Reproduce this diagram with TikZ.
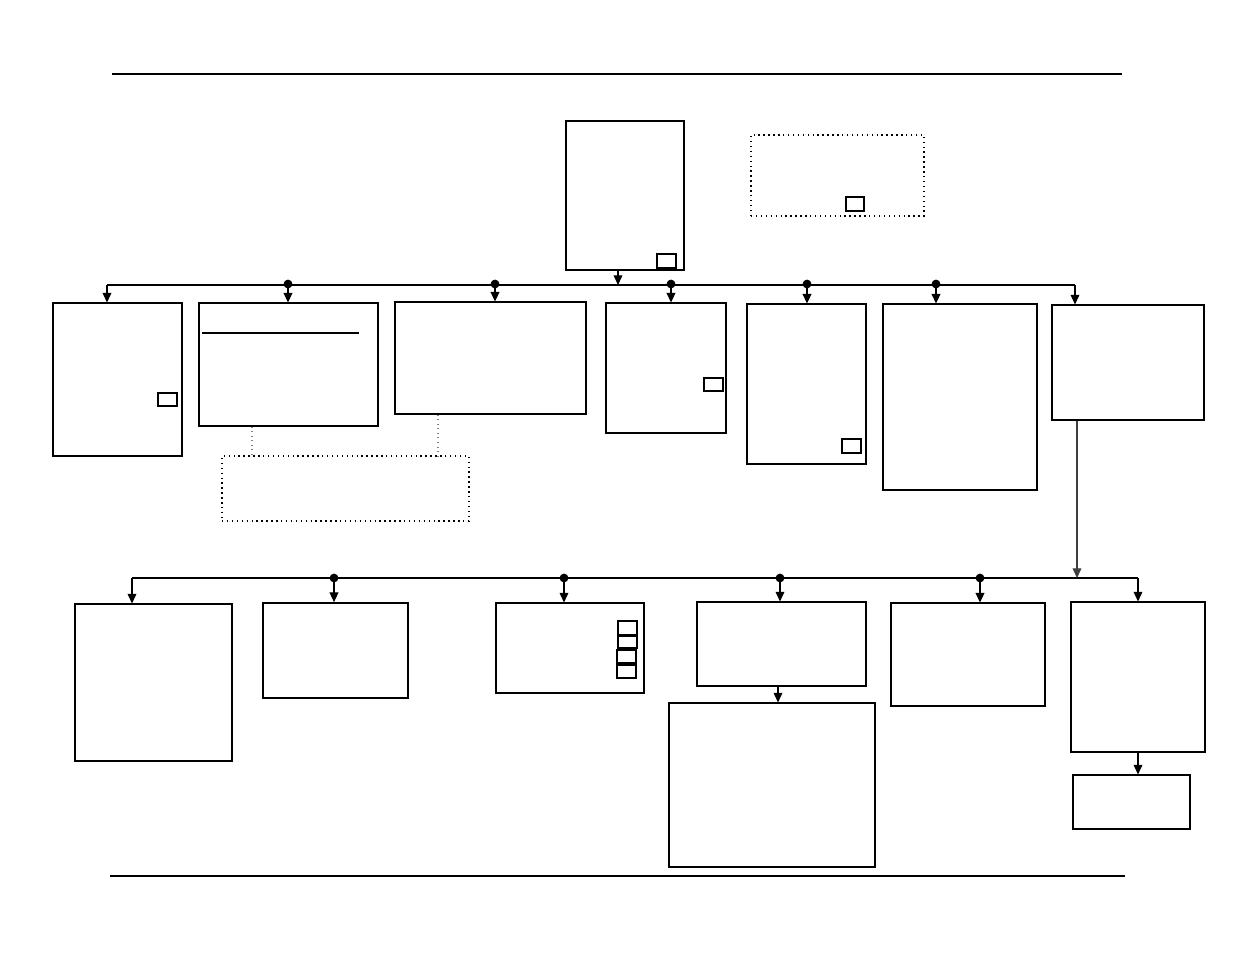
\documentclass[tikz,border=0pt]{standalone}
\usetikzlibrary{arrows.meta,fit}

\tikzset{
  box/.style={draw, line width=0.6pt, inner sep=0pt, fill=white},
  notebox/.style={draw, dotted, line width=0.8pt, inner sep=0pt},
  tagbox/.style={draw, line width=0.6pt, inner sep=0pt},
  joint/.style={circle, fill, inner sep=0pt, minimum size=5pt},
  arr/.style={-{Triangle[length=5.5pt,width=5pt]}, line width=0.6pt},
  darr/.style={arr, line width=1.1pt},
  link/.style={dotted, line width=0.6pt, gray}
}

\begin{document}
\begin{tikzpicture}[x=0.02cm, y=-0.02cm]
  \useasboundingbox (0,0) rectangle (1235,954);

  % page rules
  \draw[line width=0.6pt] (112,74) -- (1122,74);
  \draw[line width=1.4pt] (110,876) -- (1125,876);

  % head and side note
  \node[box, fit={(566,121) (684,270)}] (head) {};
  \node[tagbox, fit={(657,254) (676,268)}] (headtag) {};
  \node[notebox, fit={(751,135) (924,216)}] (staff) {};
  \node[tagbox, fit={(846,197) (864,211)}] (stafftag) {};

  % first row
  \node[box, fit={(53,303) (182,456)}] (a1) {};
  \node[tagbox, fit={(158,393) (177,406)}] (a1tag) {};
  \node[box, fit={(199,303) (378,426)}] (a2) {};
  \draw[line width=0.6pt] (202,333) -- (359,333);
  \node[box, fit={(395,302) (586,414)}] (a3) {};
  \node[box, fit={(606,303) (726,433)}] (a4) {};
  \node[tagbox, fit={(704,378) (723,391)}] (a4tag) {};
  \node[box, fit={(747,304) (866,464)}] (a5) {};
  \node[tagbox, fit={(842,439) (861,453)}] (a5tag) {};
  \node[box, fit={(883,304) (1037,490)}] (a6) {};
  \node[box, fit={(1052,305) (1204,420)}] (a7) {};

  \node[notebox, fit={(222,456) (469,521)}] (council) {};
  \coordinate (n1) at (252,456);
  \coordinate (n2) at (438,456);
  \draw[link] (n1 |- a2.south) -- (n1);
  \draw[link] (n2 |- a3.south) -- (n2);

  % first bus
  \coordinate (busL) at (107,285);
  \coordinate (busR) at (1075,285);
  \coordinate (busT) at (618,285);
  \draw[line width=0.6pt] (busL) -- (busR);
  \draw[arr] (busT |- head.south) -- (busT);
  \draw[arr] (busL) -- (busL |- a1.north);
  \draw[arr] (busR) -- (busR |- a7.north);
  \node[joint] (j2) at (288,284) {};
  \node[joint] (j3) at (495,284) {};
  \node[joint] (j4) at (671,284) {};
  \node[joint] (j5) at (807,284) {};
  \node[joint] (j6) at (936,284) {};
  \draw[darr] (j2.center) -- (j2 |- a2.north);
  \draw[darr] (j3.center) -- (j3 |- a3.north);
  \draw[darr] (j4.center) -- (j4 |- a4.north);
  \draw[darr] (j5.center) -- (j5 |- a5.north);
  \draw[darr] (j6.center) -- (j6 |- a6.north);

  % second row
  \node[box, fit={(75,604) (232,761)}] (b1) {};
  \node[box, line width=1pt, fit={(263,603) (408,698)}] (b2) {};
  \node[box, fit={(496,603) (644,693)}] (b3) {};
  \node[tagbox, fit={(618,621) (637,635)}] (b3tag1) {};
  \node[tagbox, fit={(618,636) (637,648)}] (b3tag2) {};
  \node[tagbox, fit={(617,650) (636,663)}] (b3tag3) {};
  \node[tagbox, fit={(617,665) (636,678)}] (b3tag4) {};
  \node[box, fit={(697,602) (866,686)}] (b4) {};
  \node[box, fit={(891,603) (1045,706)}] (b5) {};
  \node[box, fit={(1071,602) (1205,752)}] (b6) {};

  \node[box, fit={(669,703) (875,867)}] (c1) {};
  \node[box, fit={(1073,775) (1190,829)}] (c2) {};

  % second bus
  \coordinate (subL) at (132,578);
  \coordinate (subR) at (1138,578);
  \coordinate (subT) at (1077,578);
  \coordinate (subC) at (778,686);
  \draw[line width=0.6pt] (subL) -- (subR);
  \draw[arr, gray!50!black] (subT |- a7.south) -- (subT);
  \draw[arr] (subL) -- (subL |- b1.north);
  \draw[arr] (subR) -- (subR |- b6.north);
  \node[joint] (k2) at (334,578) {};
  \node[joint] (k3) at (564,578) {};
  \node[joint] (k4) at (780,578) {};
  \node[joint] (k5) at (980,578) {};
  \draw[arr] (k2.center) -- (k2 |- b2.north);
  \draw[arr] (k3.center) -- (k3 |- b3.north);
  \draw[arr] (k4.center) -- (k4 |- b4.north);
  \draw[darr] (k5.center) -- (k5 |- b5.north);

  \draw[arr] (subC) -- (subC |- c1.north);
  \draw[arr] (b6.south) -- (b6.south |- c2.north);
\end{tikzpicture}
\end{document}
